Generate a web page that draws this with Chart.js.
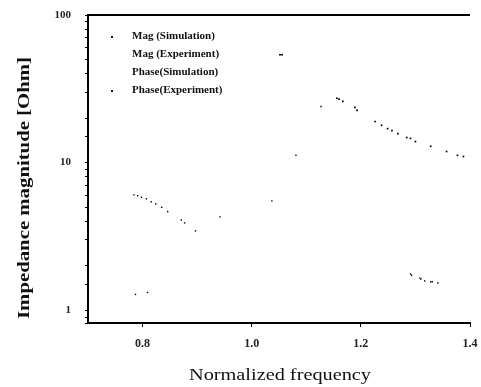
<!DOCTYPE html>
<html>
<head>
<meta charset="utf-8">
<script src="https://cdn.jsdelivr.net/npm/chart.js@4"></script>
<style>
  html, body { margin: 0; padding: 0; background: #fff; }
  #wrap { width: 481px; height: 387px; }
</style>
</head>
<body>
<div id="wrap"><canvas id="chart" width="481" height="387"></canvas></div>
<script>
// Data (x = normalized frequency, y = Ohm)
const magSimX = [0.784, 0.791, 0.798, 0.807, 0.816, 0.824, 0.835, 0.846, 0.871, 0.877, 0.897];
const magSimY = [6.05, 5.97, 5.82, 5.69, 5.43, 5.26, 4.98, 4.66, 4.09, 3.91, 3.45];

const magExpX = [1.156, 1.160, 1.167, 1.189, 1.193, 1.226, 1.238, 1.249, 1.257, 1.268, 1.284, 1.291, 1.300, 1.328, 1.357, 1.377, 1.388];
const magExpY = [27.3, 26.9, 26.0, 23.7, 22.6, 19.0, 17.9, 17.0, 16.5, 15.7, 14.8, 14.6, 13.9, 12.9, 11.9, 11.2, 11.0];

const phaseSimX = [0.787, 0.809, 0.942, 1.037, 1.081, 1.127];
const phaseSimY = [1.28, 1.32, 4.29, 5.51, 11.2, 24.0];

const phaseExpX = [1.291, 1.293, 1.308, 1.310, 1.317, 1.328, 1.331, 1.341];
const phaseExpY = [1.76, 1.73, 1.65, 1.63, 1.58, 1.56, 1.56, 1.53];

const xTicks = [0.8, 1.0, 1.2, 1.4];
const yMajor = [1, 10, 100];
const legendLabels = ["Mag (Simulation)", "Mag (Experiment)", "Phase(Simulation)", "Phase(Experiment)"];
const xTitle = "Normalized frequency";
const yTitle = "Impedance magnitude [Ohm]";

const serif = "'Liberation Serif', 'DejaVu Serif', serif";

function pts(xs, ys) {
  return xs.map((x, i) => ({ x: x, y: ys[i] }));
}

function series(label, xs, ys, r) {
  return {
    label: label,
    data: pts(xs, ys),
    showLine: false,
    pointRadius: r,
    pointStyle: "rect",
    backgroundColor: "#000",
    borderColor: "#000",
    borderWidth: 0
  };
}

// draw text stretched to a given width (the scan has wide lettering)
function wideText(ctx, text, cx, cy, width) {
  const w = ctx.measureText(text).width;
  ctx.save();
  ctx.translate(cx, cy);
  ctx.scale(width / w, 1);
  ctx.textAlign = "center";
  ctx.textBaseline = "middle";
  ctx.fillText(text, 0, 0);
  ctx.restore();
}

// top frame line, legend text and axis titles
const frame = {
  id: "frame",
  afterDraw(chart) {
    const { ctx, chartArea: a } = chart;
    ctx.save();
    ctx.strokeStyle = "#000";
    ctx.lineWidth = 2;
    ctx.beginPath();
    ctx.moveTo(a.left, a.top);
    ctx.lineTo(a.right, a.top);
    ctx.stroke();

    ctx.fillStyle = "#111";
    ctx.font = "bold 11px " + serif;
    ctx.textBaseline = "middle";
    legendLabels.forEach((t, i) => {
      ctx.fillText(t, a.left + 44, a.top + 21 + i * 18);
    });
    ctx.fillRect(a.left + 23, a.top + 21, 2, 2);
    ctx.fillRect(a.left + 23, a.top + 75, 2, 2);
    ctx.fillRect(a.left + 191, a.top + 39, 4, 1.5);

    ctx.font = "16px " + serif;
    wideText(ctx, xTitle, 280, 376, 182);

    ctx.save();
    ctx.translate(25, 188);
    ctx.rotate(-Math.PI / 2);
    ctx.font = "bold 16px " + serif;
    wideText(ctx, yTitle, 0, 0, 262);
    ctx.restore();
    ctx.restore();
  }
};

new Chart(document.getElementById("chart"), {
  type: "scatter",
  data: {
    datasets: [
      series(legendLabels[0], magSimX, magSimY, 1),
      series(legendLabels[1], magExpX, magExpY, 1.2),
      series(legendLabels[2], phaseSimX, phaseSimY, 1),
      series(legendLabels[3], phaseExpX, phaseExpY, 1)
    ]
  },
  options: {
    responsive: false,
    animation: false,
    layout: { padding: { top: 15, right: 11, left: 0, bottom: 0 } },
    plugins: { legend: { display: false }, tooltip: { enabled: false } },
    scales: {
      x: {
        type: "linear",
        min: 0.7,
        max: 1.4,
        afterBuildTicks: s => { s.ticks = xTicks.map(v => ({ value: v })); },
        afterFit: s => { s.height = 64; s.paddingLeft = 0; s.paddingRight = 0; },
        border: { color: "#000", width: 2 },
        grid: { drawOnChartArea: false, color: "#000", tickLength: 4 },
        ticks: {
          color: "#222",
          font: { family: serif, size: 12, weight: "bold" },
          padding: 10,
          maxRotation: 0,
          callback: v => v.toFixed(1)
        }
      },
      y: {
        type: "logarithmic",
        min: 0.82,
        max: 100,
        afterFit: s => { s.width = 88; s.paddingTop = 0; s.paddingBottom = 0; },
        border: { color: "#000", width: 2 },
        grid: { drawOnChartArea: false, color: "#000", tickLength: 3 },
        ticks: {
          color: "#222",
          font: { family: serif, size: 11, weight: "bold" },
          padding: 14,
          autoSkip: false,
          callback: v => (yMajor.includes(v) ? String(v) : "")
        }
      }
    }
  },
  plugins: [frame]
});
</script>
</body>
</html>
